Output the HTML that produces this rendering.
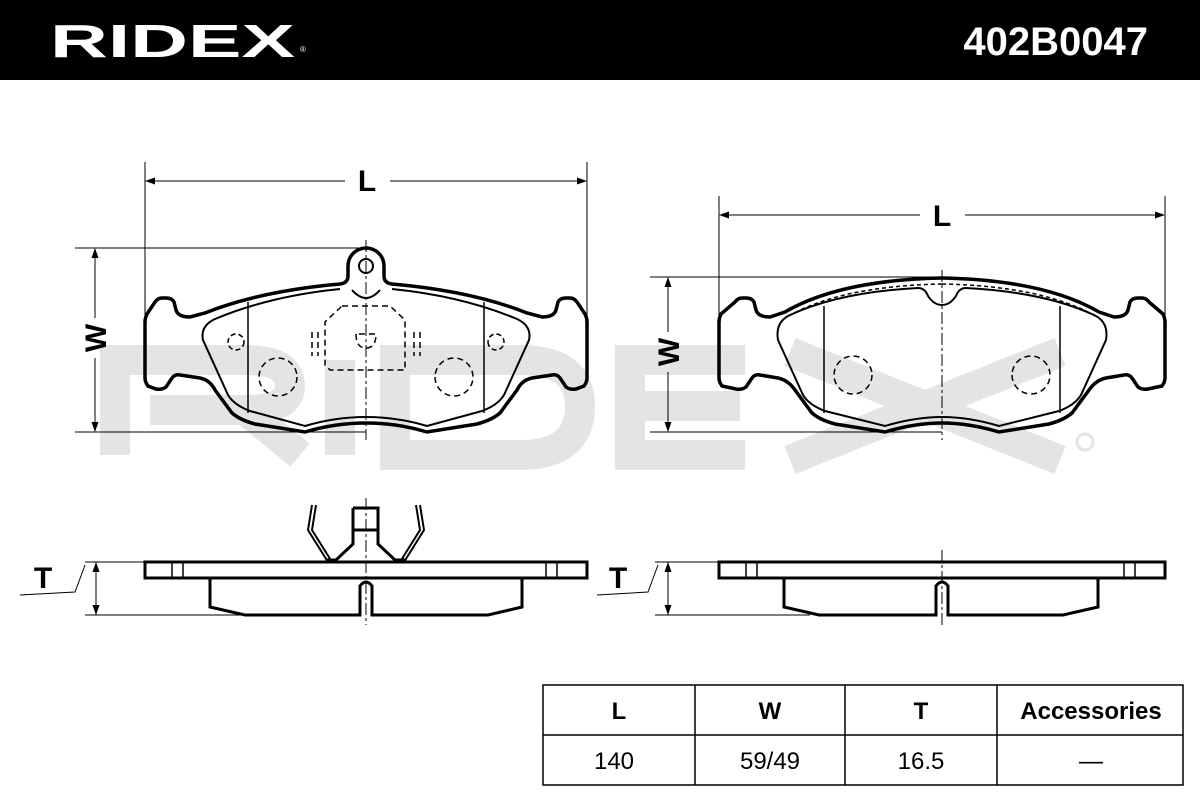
<!DOCTYPE html>
<html><head><meta charset="utf-8"><style>
html,body{margin:0;padding:0;background:#fff;}
svg{display:block;}
text{font-family:"Liberation Sans",sans-serif;}
</style></head><body>
<svg width="1200" height="800" viewBox="0 0 1200 800" xmlns="http://www.w3.org/2000/svg">
<rect x="0" y="0" width="1200" height="80" fill="#000"/>
<text x="50" y="57" font-size="46" font-weight="bold" fill="#fff" textLength="245" lengthAdjust="spacingAndGlyphs">RIDEX</text>
<text x="300" y="52" font-size="8" fill="#fff">®</text>
<text x="1148" y="55" font-size="40" font-weight="bold" fill="#fff" text-anchor="end">402B0047</text>

<!-- watermark -->
<g fill="none" stroke="#e4e4e4" stroke-width="30">
<path d="M115,455 L115,360 L245,360 Q290,360 290,386 Q290,410 245,410 L150,410 M245,410 L300,455"/>
<path d="M340,360 L340,455"/>
<path d="M395,455 L395,360 L520,360 Q580,360 580,406 Q580,455 520,455 Z"/>
<path d="M745,360 L630,360 L630,455 L745,455 M630,406 L740,406"/>
<path d="M790,352 L1060,460 M1060,352 L790,460"/>
</g>
<circle cx="1085" cy="442" r="8" fill="none" stroke="#e4e4e4" stroke-width="3"/>

<g fill="none" stroke="#000">
<!-- left pad -->
<g id="halfL">
<path stroke-width="3.5" d="M366,248 A18,18 0 0 0 348,266 L348,276 Q348,283 340,284 Q260,291 205,313 L190,317 Q178,317 176,310 L174,302 Q172,298 166,298 L162,298 Q158,298 155,302 L147,314 Q145,318 145,322 L145,378 Q145,382 148,386 L156,389 Q162,390 166,387 L172,378 Q175,374 180,375 L200,378 Q210,380 215,390 L232,413 Q240,420 255,424 L305,432 Q335,423 366,423"/>
<path stroke-width="2" d="M340,289 Q270,296 215,319 Q200,326 203,340 L228,395 Q234,405 250,411 L305,426 Q335,417 366,417"/>
<path stroke-width="1.5" d="M248,302 L248,413"/>
<circle cx="236" cy="342" r="8" stroke-width="1.5" stroke-dasharray="5,3"/>
<circle cx="278" cy="377" r="19" stroke-width="1.5" stroke-dasharray="6,4"/>
</g>
<use href="#halfL" transform="translate(732,0) scale(-1,1)"/>
<circle cx="366" cy="266" r="7" stroke-width="2"/>
<path stroke-width="2" d="M352,290 Q366,306 380,290"/>
<g stroke-width="1.5" stroke-dasharray="6,4">
<path d="M342,306 L390,306 L405,320 L405,370 L330,370 L325,365 L325,322 Z"/>
<path d="M356,334 Q356,348 366,348 Q376,348 376,334 Z"/>
<path d="M312,332 L312,356 M318,332 L318,356 M414,332 L414,356 M420,332 L420,356"/>
</g>
<path stroke-width="1" stroke-dasharray="12,3,3,3" d="M366,240 L366,440"/>

<!-- right pad -->
<g id="halfR">
<path stroke-width="3.5" d="M942,278 Q840,280 785,312 L770,317 Q758,317 756,310 L754,302 Q752,298 746,298 L742,298 Q738,298 735,302 L721,314 Q719,318 719,322 L719,378 Q719,382 722,386 L736,389 Q742,390 746,387 L752,378 Q755,374 760,375 L778,378 Q788,380 795,390 L812,413 Q820,420 835,424 L885,432 Q915,423 942,423"/>
<path stroke-width="1.5" stroke-dasharray="4,3" d="M942,284 Q840,286 787,317"/>
<path stroke-width="2" d="M918,288 Q840,292 790,315 Q775,322 778,340 L803,395 Q809,405 825,411 L885,426 Q915,417 942,417"/>
<path stroke-width="1.5" d="M824,306 L824,413"/>
<circle cx="853" cy="375" r="19" stroke-width="1.5" stroke-dasharray="6,4"/>
</g>
<use href="#halfR" transform="translate(1884,0) scale(-1,1)"/>
<path stroke-width="2" d="M918,288 Q925,288 928,296 Q934,305 942,305 Q950,305 956,296 Q959,288 966,288"/>
<path stroke-width="1" stroke-dasharray="12,3,3,3" d="M942,270 L942,440"/>

<!-- dimension lines -->
<g stroke-width="1">
<path d="M145,162 L145,320 M587,162 L587,320 M147,181 L345,181 M390,181 L585,181"/>
<path d="M75,248 L366,248 M75,432 L366,432 M95,250 L95,318 M95,358 L95,430"/>
<path d="M719,196 L719,320 M1165,196 L1165,320 M721,215 L920,215 M965,215 L1163,215"/>
<path d="M650,277 L942,277 M650,432 L942,432 M668,279 L668,332 M668,372 L668,430"/>
</g>
</g>
<g fill="#000">
<path d="M145,181 l10,-3.5 l0,7 z M587,181 l-10,-3.5 l0,7 z"/>
<path d="M95,248 l-3.5,10 l7,0 z M95,432 l-3.5,-10 l7,0 z"/>
<path d="M719,215 l10,-3.5 l0,7 z M1165,215 l-10,-3.5 l0,7 z"/>
<path d="M668,277 l-3.5,10 l7,0 z M668,432 l-3.5,-10 l7,0 z"/>
<path d="M96,562 l-3.5,10 l7,0 z M96,615 l-3.5,-10 l7,0 z"/>
<path d="M668,562 l-3.5,10 l7,0 z M668,615 l-3.5,-10 l7,0 z"/>
</g>
<g font-size="30" font-weight="bold" text-anchor="middle">
<text x="367" y="191">L</text>
<text x="942" y="226">L</text>
<text x="0" y="0" transform="translate(106,338) rotate(-90)">W</text>
<text x="0" y="0" transform="translate(679,352) rotate(-90)">W</text>
<text x="43" y="588">T</text>
<text x="618" y="588">T</text>
</g>

<!-- side views -->
<g fill="none" stroke="#000">
<g stroke-width="1">
<path d="M85,562 L145,562 M85,615 L240,615 M96,562 L96,615 M20,595 L75,592 L85,565"/>
<path d="M655,562 L719,562 M655,615 L810,615 M668,562 L668,615 M597,595 L648,592 L658,565"/>
<path stroke-dasharray="12,3,3,3" d="M366,498 L366,625 M942,550 L942,625"/>
</g>
<g stroke-width="3">
<rect x="145" y="562" width="442" height="16"/>
<path d="M172,562 L172,578 M183,562 L183,578 M546,562 L546,578 M557,562 L557,578" stroke-width="1.5"/>
<path d="M210,578 L210,607 L245,615 L360,615 L360,586 Q366,578 372,586 L372,615 L488,615 L522,607 L522,578"/>
<path d="M353,508 L378,508 L378,544 L395,560 L405,560 M353,508 L353,544 L336,560 L326,560 M353,530 L378,530"/>
<path stroke-width="2" d="M312,505 L308,530 L328,562 M316,505 L312,530 L332,562 M420,505 L424,530 L404,562 M416,505 L420,530 L400,562"/>
<rect x="719" y="562" width="446" height="16"/>
<path d="M746,562 L746,578 M757,562 L757,578 M1124,562 L1124,578 M1135,562 L1135,578" stroke-width="1.5"/>
<path d="M784,578 L784,607 L819,615 L936,615 L936,586 Q942,578 948,586 L948,615 L1063,615 L1098,607 L1098,578"/>
</g>
</g>

<!-- table -->
<g fill="none" stroke="#000" stroke-width="1.5">
<rect x="543" y="685" width="640" height="100"/>
<path d="M543,735 L1183,735 M695,685 L695,785 M845,685 L845,785 M997,685 L997,785"/>
</g>
<g font-size="24" text-anchor="middle">
<text x="619" y="719" font-weight="bold">L</text>
<text x="770" y="719" font-weight="bold">W</text>
<text x="921" y="719" font-weight="bold">T</text>
<text x="1091" y="719" font-weight="bold">Accessories</text>
<text x="614" y="769">140</text>
<text x="770" y="769">59/49</text>
<text x="921" y="769">16.5</text>
<text x="1091" y="769">—</text>
</g>
</svg>
</body></html>
